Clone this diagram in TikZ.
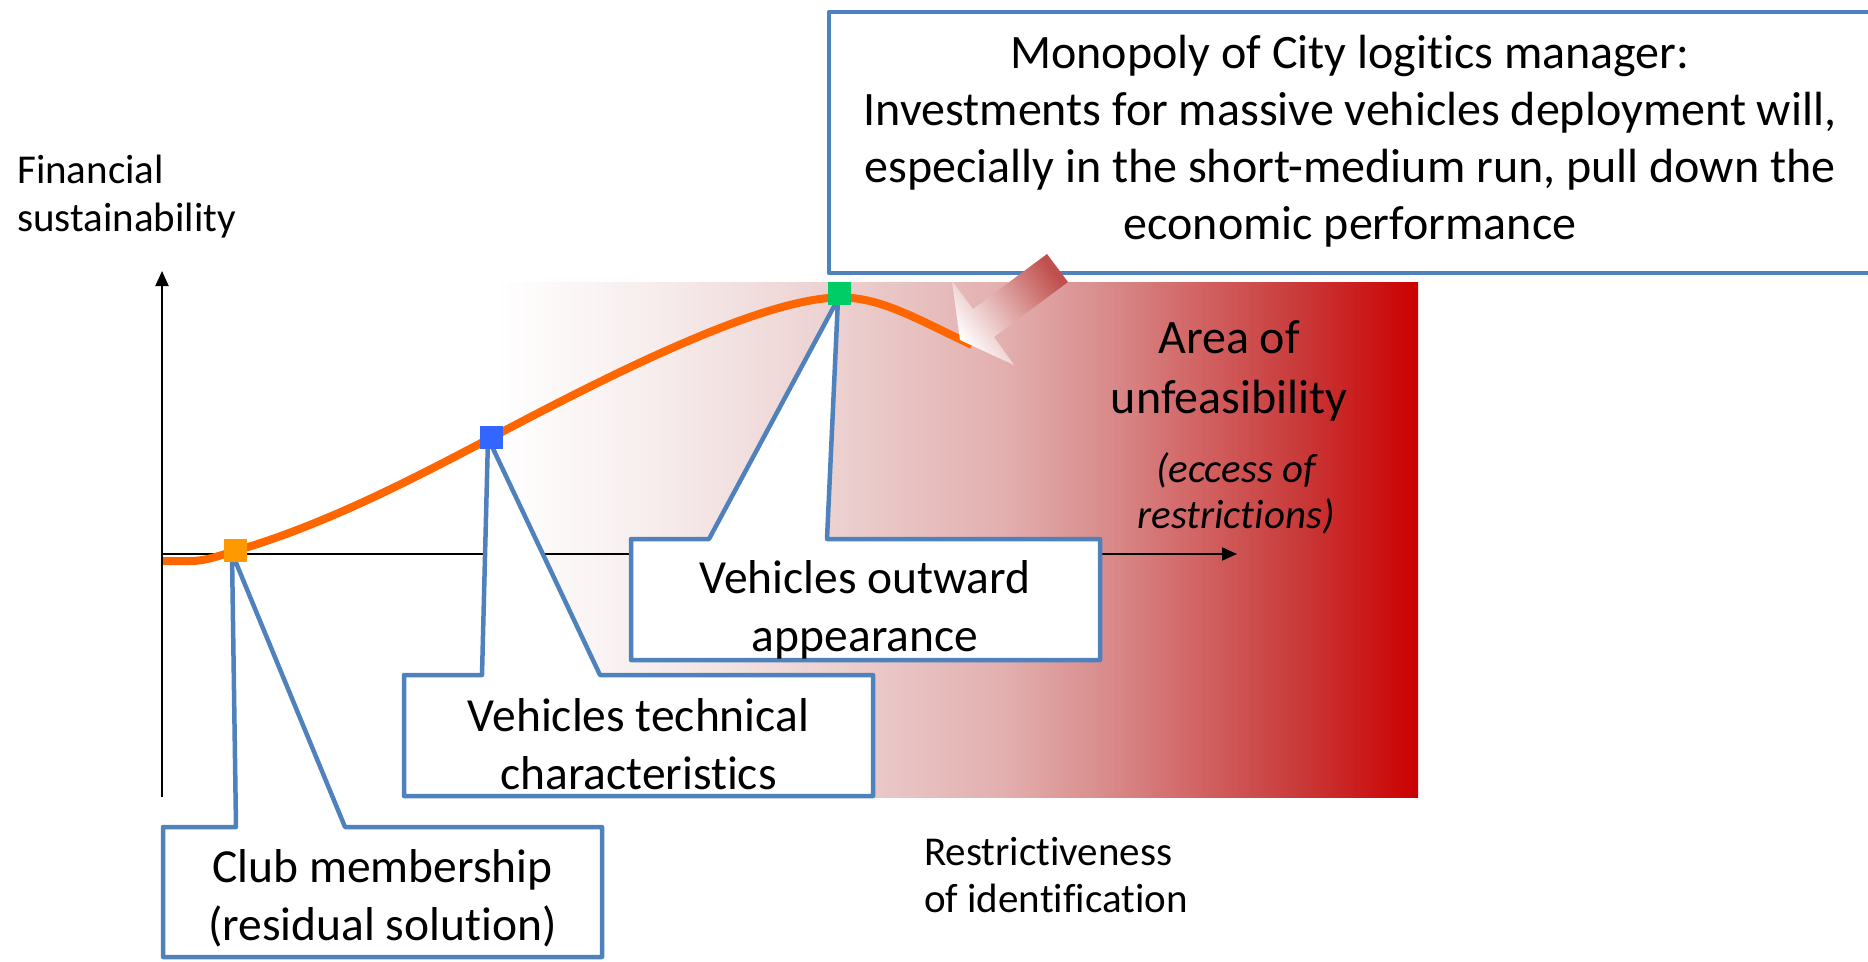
\documentclass[tikz,border=0pt]{standalone}
\usepackage{fontspec}
\setmainfont{Carlito}[Ligatures=NoCommon]
\usetikzlibrary{arrows.meta}
\definecolor{cblue}{RGB}{79,129,189}
\definecolor{corange}{RGB}{255,102,0}
\definecolor{sqorange}{RGB}{255,153,0}
\definecolor{sqblue}{RGB}{51,102,255}
\definecolor{sqgreen}{RGB}{0,204,102}
\definecolor{arrdark}{RGB}{192,80,77}
\definecolor{ga}{RGB}{247,237,237}
\definecolor{gb}{RGB}{236,208,208}
\definecolor{gc}{RGB}{227,175,175}
\definecolor{gd}{RGB}{217,140,140}
\definecolor{ge}{RGB}{210,100,100}
\definecolor{gf}{RGB}{201,58,58}
\definecolor{gg}{RGB}{204,0,0}
\pgfdeclarehorizontalshading{feas}{100bp}{color(0bp)=(white); color(25bp)=(white); color(33.5bp)=(ga); color(43.5bp)=(gb); color(52.5bp)=(gc); color(58bp)=(gd); color(63bp)=(ge); color(68.5bp)=(gf); color(75bp)=(gg); color(100bp)=(gg)}
\tikzset{
  axisline/.style={line width=2pt, -{Triangle[length=15pt,width=13pt]}},
  callout/.style={draw=cblue, line width=4.5pt, fill=white, line join=round},
  boxtext/.style={font=\fontsize{47.5}{58}\selectfont, align=center, inner sep=0pt},
  lbltext/.style={font=\fontsize{41}{48}\selectfont, inner sep=0pt},
  sq/.style={minimum size=23pt, inner sep=0pt, outer sep=0pt}
}
\begin{document}
\begin{tikzpicture}[x=1pt,y=-1pt]
\useasboundingbox (0,0) rectangle (1868,961);
% area of unfeasibility gradient
\shade[shading=feas] (495,282) rectangle (1418,797);
% axes
\coordinate (ybot) at (162,797);
\coordinate (ytop) at (162,271);
\coordinate (xl) at (162,554);
\coordinate (xr) at (1237,554);
\draw[axisline] (ybot) -- (ytop);
\draw[axisline] (xl) -- (xr);
% labels
\node[lbltext, anchor=west, align=left] (fin) at (17,197) {Financial\\sustainability};
\node[font=\fontsize{48}{60}\selectfont, align=center, inner sep=0pt] (area) at (1229,371) {Area of\\unfeasibility};
\node[lbltext, font=\fontsize{41}{46}\selectfont\itshape, align=center] (eccess) at (1236,493) {(eccess of\\restrictions)};
\node[lbltext, anchor=west, align=left, font=\fontsize{41}{47}\selectfont] (restr) at (924,875) {Restrictiveness\\of identification};
% square positions
\coordinate (p1) at (235,550);
\coordinate (p2) at (491.5,437.5);
\coordinate (p3) at (839.5,293.5);
\coordinate (t1) at (232,553);
\coordinate (t2) at (488,438);
\coordinate (t3) at (838,299);
% callouts
\draw[callout] (163,827) -- (236,827) -- (t1) -- (345,827) -- (602,827) -- (602,957) -- (163,957) -- cycle;
\node[boxtext] (club) at (382.5,898) {Club membership\\(residual solution)};
\draw[callout] (404,675) -- (482,675) -- (t2) -- (600,675) -- (873,675) -- (873,796) -- (404,796) -- cycle;
\node[boxtext] (tech) at (638.5,744) {Vehicles technical\\characteristics};
\draw[callout] (631,539) -- (709,539) -- (t3) -- (827,539) -- (1100,539) -- (1100,660) -- (631,660) -- cycle;
\node[boxtext] (outw) at (865,610) {Vehicles outward\\appearance};
\draw[callout] (829,12) rectangle (1885,273);
\node[boxtext, font=\fontsize{48}{57}\selectfont] (mono) at (1350,141) {Monopoly of City logitics manager:\\Investments for massive vehicles deployment will,\\especially in the short-medium run, pull down the\\economic performance};
% curve
\draw[corange, line width=8pt] (163,561) -- (190,561) .. controls (205,561) and (215,557) .. (235,551) .. controls (320,526) and (400,486) .. (491.5,437.5) .. controls (600,380) and (760,298) .. (839.5,297.5) .. controls (880,297) and (915,318) .. (972,345);
% squares
\node[sq, fill=sqorange] (s1) at (p1) {};
\node[sq, fill=sqblue] (s2) at (p2) {};
\node[sq, fill=sqgreen] (s3) at (p3) {};
% big arrow
\shade[top color=arrdark, bottom color=white, shading angle=-53.6] (1047,254) -- (1068,282) -- (994,337) -- (1014,365) -- (960,340) -- (952,281) -- (973,309) -- cycle;
\end{tikzpicture}
\end{document}
